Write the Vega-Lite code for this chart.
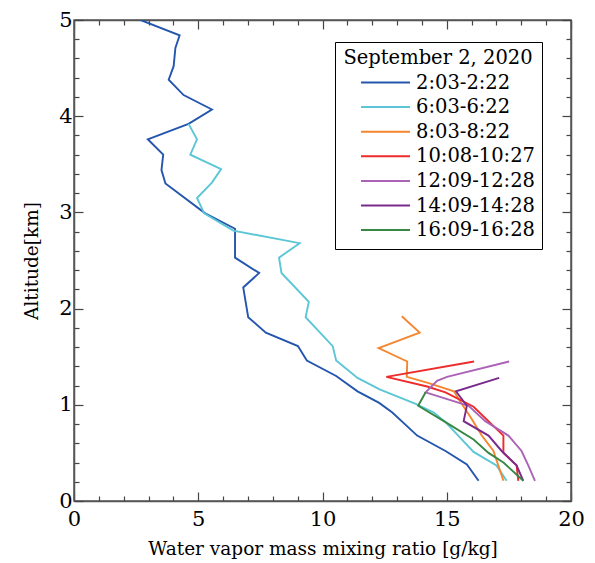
{
  "$schema": "https://vega.github.io/schema/vega-lite/v6.json",
  "width": 497,
  "height": 481,
  "autosize": "none",
  "padding": {"left": 74, "top": 20, "right": 24, "bottom": 62},
  "background": "white",
  "config": {
    "font": "DejaVu Serif",
    "view": {"stroke": "#555", "strokeWidth": 1.5},
    "axis": {"domainColor": "#555", "tickColor": "#444", "domainWidth": 1.5, "tickWidth": 1.2, "grid": false, "labelColor": "black", "titleColor": "black", "labelFont": "DejaVu Serif", "titleFont": "DejaVu Serif", "titleFontWeight": "normal", "labelFontSize": 21, "titleFontSize": 18.5, "labelFlush": false},
    "legend": {"labelFont": "DejaVu Serif", "titleFont": "DejaVu Serif"}
  },
  "data": {"values": [
    {"t": "2:03-2:22", "q": 2.68, "alt": 5.00},
    {"t": "2:03-2:22", "q": 4.25, "alt": 4.84},
    {"t": "2:03-2:22", "q": 4.08, "alt": 4.71},
    {"t": "2:03-2:22", "q": 4.01, "alt": 4.52},
    {"t": "2:03-2:22", "q": 3.81, "alt": 4.38},
    {"t": "2:03-2:22", "q": 4.41, "alt": 4.22},
    {"t": "2:03-2:22", "q": 5.55, "alt": 4.07},
    {"t": "2:03-2:22", "q": 4.61, "alt": 3.92},
    {"t": "2:03-2:22", "q": 2.97, "alt": 3.76},
    {"t": "2:03-2:22", "q": 3.59, "alt": 3.60},
    {"t": "2:03-2:22", "q": 3.52, "alt": 3.44},
    {"t": "2:03-2:22", "q": 3.68, "alt": 3.30},
    {"t": "2:03-2:22", "q": 5.28, "alt": 2.99},
    {"t": "2:03-2:22", "q": 6.48, "alt": 2.83},
    {"t": "2:03-2:22", "q": 6.48, "alt": 2.53},
    {"t": "2:03-2:22", "q": 7.45, "alt": 2.37},
    {"t": "2:03-2:22", "q": 6.81, "alt": 2.22},
    {"t": "2:03-2:22", "q": 7.01, "alt": 1.91},
    {"t": "2:03-2:22", "q": 7.72, "alt": 1.75},
    {"t": "2:03-2:22", "q": 9.01, "alt": 1.61},
    {"t": "2:03-2:22", "q": 9.37, "alt": 1.46},
    {"t": "2:03-2:22", "q": 10.55, "alt": 1.30},
    {"t": "2:03-2:22", "q": 11.41, "alt": 1.14},
    {"t": "2:03-2:22", "q": 12.28, "alt": 1.02},
    {"t": "2:03-2:22", "q": 12.81, "alt": 0.92},
    {"t": "2:03-2:22", "q": 13.81, "alt": 0.68},
    {"t": "2:03-2:22", "q": 14.95, "alt": 0.52},
    {"t": "2:03-2:22", "q": 15.81, "alt": 0.38},
    {"t": "2:03-2:22", "q": 16.28, "alt": 0.21},

    {"t": "6:03-6:22", "q": 4.61, "alt": 3.92},
    {"t": "6:03-6:22", "q": 4.95, "alt": 3.76},
    {"t": "6:03-6:22", "q": 4.68, "alt": 3.60},
    {"t": "6:03-6:22", "q": 5.92, "alt": 3.45},
    {"t": "6:03-6:22", "q": 5.55, "alt": 3.31},
    {"t": "6:03-6:22", "q": 4.95, "alt": 3.15},
    {"t": "6:03-6:22", "q": 5.24, "alt": 2.99},
    {"t": "6:03-6:22", "q": 6.41, "alt": 2.81},
    {"t": "6:03-6:22", "q": 9.08, "alt": 2.68},
    {"t": "6:03-6:22", "q": 8.25, "alt": 2.53},
    {"t": "6:03-6:22", "q": 8.35, "alt": 2.37},
    {"t": "6:03-6:22", "q": 9.45, "alt": 2.07},
    {"t": "6:03-6:22", "q": 9.32, "alt": 1.91},
    {"t": "6:03-6:22", "q": 10.41, "alt": 1.61},
    {"t": "6:03-6:22", "q": 10.55, "alt": 1.46},
    {"t": "6:03-6:22", "q": 11.41, "alt": 1.28},
    {"t": "6:03-6:22", "q": 12.3, "alt": 1.16},
    {"t": "6:03-6:22", "q": 13.75, "alt": 1.01},
    {"t": "6:03-6:22", "q": 14.48, "alt": 0.92},
    {"t": "6:03-6:22", "q": 14.95, "alt": 0.82},
    {"t": "6:03-6:22", "q": 16.08, "alt": 0.51},
    {"t": "6:03-6:22", "q": 17.0, "alt": 0.37},
    {"t": "6:03-6:22", "q": 17.41, "alt": 0.21},

    {"t": "8:03-8:22", "q": 13.19, "alt": 1.92},
    {"t": "8:03-8:22", "q": 13.91, "alt": 1.75},
    {"t": "8:03-8:22", "q": 12.26, "alt": 1.59},
    {"t": "8:03-8:22", "q": 13.41, "alt": 1.45},
    {"t": "8:03-8:22", "q": 13.39, "alt": 1.29},
    {"t": "8:03-8:22", "q": 14.21, "alt": 1.23},
    {"t": "8:03-8:22", "q": 15.29, "alt": 1.14},
    {"t": "8:03-8:22", "q": 15.48, "alt": 1.06},
    {"t": "8:03-8:22", "q": 16.01, "alt": 0.85},
    {"t": "8:03-8:22", "q": 16.41, "alt": 0.68},
    {"t": "8:03-8:22", "q": 16.88, "alt": 0.52},
    {"t": "8:03-8:22", "q": 17.28, "alt": 0.21},

    {"t": "10:08-10:27", "q": 16.1, "alt": 1.45},
    {"t": "10:08-10:27", "q": 12.57, "alt": 1.29},
    {"t": "10:08-10:27", "q": 14.21, "alt": 1.19},
    {"t": "10:08-10:27", "q": 14.95, "alt": 1.13},
    {"t": "10:08-10:27", "q": 16.08, "alt": 0.98},
    {"t": "10:08-10:27", "q": 17.28, "alt": 0.68},
    {"t": "10:08-10:27", "q": 17.28, "alt": 0.50},
    {"t": "10:08-10:27", "q": 17.81, "alt": 0.37},
    {"t": "10:08-10:27", "q": 17.88, "alt": 0.21},

    {"t": "12:09-12:28", "q": 17.51, "alt": 1.45},
    {"t": "12:09-12:28", "q": 15.01, "alt": 1.29},
    {"t": "12:09-12:28", "q": 14.61, "alt": 1.25},
    {"t": "12:09-12:28", "q": 14.15, "alt": 1.13},
    {"t": "12:09-12:28", "q": 15.88, "alt": 0.99},
    {"t": "12:09-12:28", "q": 16.55, "alt": 0.83},
    {"t": "12:09-12:28", "q": 17.48, "alt": 0.68},
    {"t": "12:09-12:28", "q": 18.01, "alt": 0.52},
    {"t": "12:09-12:28", "q": 18.28, "alt": 0.37},
    {"t": "12:09-12:28", "q": 18.55, "alt": 0.21},

    {"t": "14:09-14:28", "q": 17.11, "alt": 1.28},
    {"t": "14:09-14:28", "q": 15.37, "alt": 1.14},
    {"t": "14:09-14:28", "q": 15.81, "alt": 0.99},
    {"t": "14:09-14:28", "q": 15.68, "alt": 0.83},
    {"t": "14:09-14:28", "q": 16.68, "alt": 0.68},
    {"t": "14:09-14:28", "q": 17.21, "alt": 0.52},
    {"t": "14:09-14:28", "q": 17.81, "alt": 0.37},
    {"t": "14:09-14:28", "q": 18.08, "alt": 0.21},

    {"t": "16:09-16:28", "q": 14.15, "alt": 1.13},
    {"t": "16:09-16:28", "q": 13.85, "alt": 0.99},
    {"t": "16:09-16:28", "q": 14.95, "alt": 0.82},
    {"t": "16:09-16:28", "q": 16.08, "alt": 0.64},
    {"t": "16:09-16:28", "q": 16.68, "alt": 0.50},
    {"t": "16:09-16:28", "q": 17.28, "alt": 0.40},
    {"t": "16:09-16:28", "q": 18.08, "alt": 0.21}
  ]},
  "layer": [
    {
      "mark": {"type": "line", "strokeWidth": 1.9, "clip": true},
      "encoding": {
        "x": {"field": "q", "type": "quantitative", "scale": {"domain": [0, 20], "nice": false, "zero": false},
          "axis": {"orient": "bottom", "title": "Water vapor mass mixing ratio [g/kg]", "values": [0,1,2,3,4,5,6,7,8,9,10,11,12,13,14,15,16,17,18,19,20],
            "labelExpr": "datum.value % 5 === 0 ? datum.label : ''", "labelPadding": 16.5, "titlePadding": 10,
            "tickSize": {"condition": {"test": "datum.value % 5 === 0", "value": -9}, "value": -5}}},
        "y": {"field": "alt", "type": "quantitative", "scale": {"domain": [0, 5], "nice": false, "zero": false},
          "axis": {"orient": "left", "title": "Altitude[km]", "values": [0,0.2,0.4,0.6,0.8,1,1.2,1.4,1.6,1.8,2,2.2,2.4,2.6,2.8,3,3.2,3.4,3.6,3.8,4,4.2,4.4,4.6,4.8,5],
            "labelExpr": "abs(datum.value - round(datum.value)) < 0.01 ? format(datum.value, 'd') : ''", "labelPadding": 11, "titlePadding": 17,
            "tickSize": {"condition": {"test": "abs(datum.value - round(datum.value)) < 0.01", "value": -9}, "value": -5}}},
        "color": {"field": "t", "type": "nominal",
          "scale": {"domain": ["2:03-2:22", "6:03-6:22", "8:03-8:22", "10:08-10:27", "12:09-12:28", "14:09-14:28", "16:09-16:28"],
            "range": ["#2456ad", "#5cc6d6", "#f5862f", "#ee2b2b", "#ab63b6", "#7a2a8c", "#378845"]},
          "legend": {"title": "September 2, 2020", "orient": "none", "legendX": 261, "legendY": 22,
            "strokeColor": "black", "fillColor": "white", "padding": 7, "titleLimit": 400,
            "titleFontSize": 19.5, "titleFontWeight": "normal", "titleColor": "black", "titleAnchor": "middle", "titlePadding": 3,
            "labelFontSize": 19.5, "labelColor": "black", "symbolType": "stroke", "symbolSize": 2400, "symbolStrokeWidth": 2,
            "symbolOffset": 18, "clipHeight": 22, "rowPadding": 2.6, "labelOffset": 5}},
        "order": {"field": "alt", "type": "quantitative"}
      }
    },
    {
      "mark": {"type": "line", "opacity": 0},
      "encoding": {
        "x": {"field": "q", "type": "quantitative",
          "axis": {"orient": "top", "title": null, "labels": false, "values": [0,1,2,3,4,5,6,7,8,9,10,11,12,13,14,15,16,17,18,19,20],
            "tickSize": {"condition": {"test": "datum.value % 5 === 0", "value": -9}, "value": -5}}},
        "y": {"field": "alt", "type": "quantitative",
          "axis": {"orient": "right", "title": null, "labels": false, "values": [0,0.2,0.4,0.6,0.8,1,1.2,1.4,1.6,1.8,2,2.2,2.4,2.6,2.8,3,3.2,3.4,3.6,3.8,4,4.2,4.4,4.6,4.8,5],
            "tickSize": {"condition": {"test": "abs(datum.value - round(datum.value)) < 0.01", "value": -9}, "value": -5}}},
        "detail": {"field": "t"}
      }
    }
  ],
  "resolve": {"axis": {"x": "independent", "y": "independent"}}
}
